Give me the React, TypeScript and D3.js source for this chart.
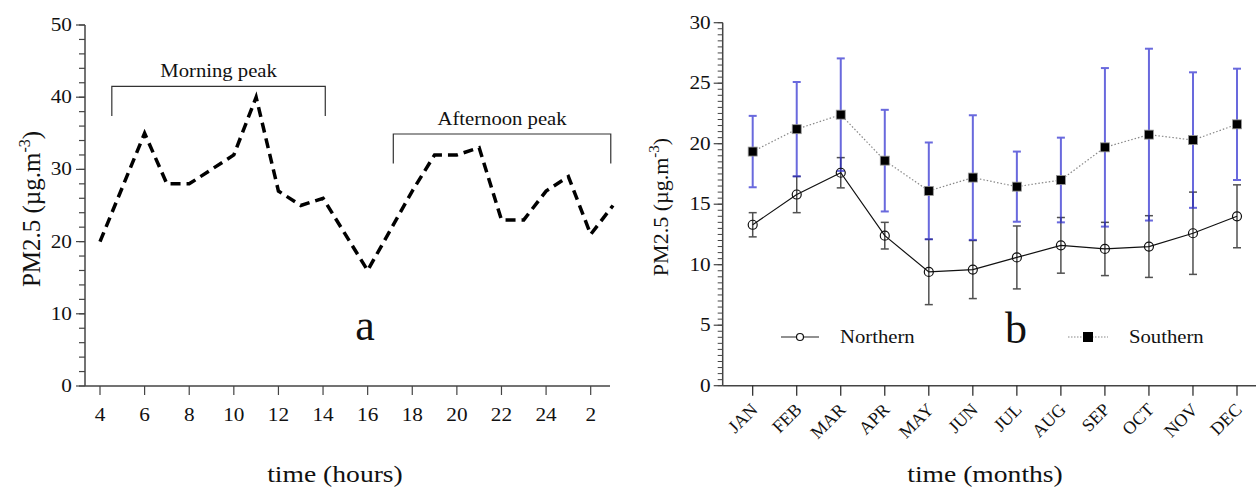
import React, { useRef, useEffect } from "react";
import * as d3 from "d3";

// panel a: hourly PM2.5 (hour 26 = 2 am, 27 = 3 am)
const hours = [4, 5, 6, 7, 8, 9, 10, 11, 12, 13, 14, 15, 16, 17, 18, 19, 20, 21, 22, 23, 24, 25, 26, 27];
const hourlyPM = [20, 27.5, 35, 28, 28, 30, 32, 40, 27, 25, 26, 21, 16, 21.5, 27, 32, 32, 33, 23, 23, 27, 29, 21, 25];
const hourTicks = [4, 6, 8, 10, 12, 14, 16, 18, 20, 22, 24, 26];
const pmTicksA = [0, 10, 20, 30, 40, 50];

// panel b: monthly PM2.5 with error bars
const months = ["JAN", "FEB", "MAR", "APR", "MAY", "JUN", "JUL", "AUG", "SEP", "OCT", "NOV", "DEC"];
const northernMean = [13.3, 15.8, 17.6, 12.4, 9.4, 9.6, 10.6, 11.6, 11.3, 11.5, 12.6, 14.0];
const northernErr = [1.0, 1.5, 1.25, 1.1, 2.7, 2.4, 2.6, 2.3, 2.2, 2.55, 3.4, 2.6];
const southernMean = [19.35, 21.2, 22.4, 18.6, 16.1, 17.2, 16.45, 17.0, 19.7, 20.75, 20.3, 21.6];
const southernErr = [2.95, 3.9, 4.65, 4.2, 4.0, 5.15, 2.9, 3.5, 6.55, 7.1, 5.6, 4.6];
const pmTicksB = [0, 5, 10, 15, 20, 25, 30];

const FONT = "'Liberation Serif', 'Times New Roman', serif";
const SX = 1.15; // text in the source is stretched sideways a little

const App = () => {
    const ref = useRef<SVGSVGElement>(null);

    useEffect(() => {
        const svg = d3.select(ref.current);
        svg.selectAll("*").remove();

        const label = (g: any, x: number, y: number, txt: string, size: number, anchor = "middle", sx = SX) =>
            g.append("text")
                .attr("transform", `translate(${x},${y}) scale(${sx},1)`)
                .attr("text-anchor", anchor)
                .style("font-family", FONT)
                .style("font-size", size + "px")
                .attr("fill", "#111")
                .text(txt);

        // ---------------- panel a ----------------
        const xA = d3.scaleLinear().domain([4, 27]).range([100, 613]);
        const yA = d3.scaleLinear().domain([0, 50]).range([386, 25]);
        const a = svg.append("g");

        // minor y ticks
        a.selectAll(".minorA").data(d3.range(0, 50.1, 2)).enter().append("line")
            .attr("x1", 79).attr("x2", 85)
            .attr("y1", d => yA(d)).attr("y2", d => yA(d))
            .attr("stroke", "#444").attr("stroke-width", 1.2);
        a.selectAll(".majorA").data(pmTicksA).enter().append("line")
            .attr("x1", 76).attr("x2", 85)
            .attr("y1", d => yA(d)).attr("y2", d => yA(d))
            .attr("stroke", "#444").attr("stroke-width", 1.2);
        pmTicksA.forEach(v => label(a, 72, yA(v) + 6, String(v), 18.5, "end"));
        a.append("line").attr("x1", 85).attr("x2", 85).attr("y1", yA(50)).attr("y2", yA(0))
            .attr("stroke", "#444").attr("stroke-width", 1.5);
        a.append("line").attr("x1", 85).attr("x2", 610).attr("y1", yA(0)).attr("y2", yA(0))
            .attr("stroke", "#444").attr("stroke-width", 1.5);
        a.selectAll(".xtA").data(hourTicks).enter().append("line")
            .attr("x1", d => xA(d)).attr("x2", d => xA(d))
            .attr("y1", yA(0)).attr("y2", yA(0) + 9)
            .attr("stroke", "#444").attr("stroke-width", 1.2);
        hourTicks.forEach(h => label(a, xA(h), 421, String(h > 24 ? h - 24 : h), 18.5));

        // the hourly line
        const lineA = d3.line<number>().x((d, i) => xA(hours[i])).y(d => yA(d));
        a.append("path").datum(hourlyPM)
            .attr("d", lineA)
            .attr("fill", "none").attr("stroke", "#000").attr("stroke-width", 3.5)
            .attr("stroke-dasharray", "10,6");

        // brackets
        const bracket = (h0: number, h1: number, top: number, bot: number, txt: string) => {
            a.append("path")
                .attr("d", `M${xA(h0)},${yA(bot)}V${yA(top)}H${xA(h1)}V${yA(bot)}`)
                .attr("fill", "none").attr("stroke", "#333").attr("stroke-width", 1.2);
            label(a, (xA(h0) + xA(h1)) / 2, yA(top) - 9, txt, 18);
        };
        bracket(4.53, 14.1, 41.5, 37.4, "Morning peak");
        bracket(17.15, 26.9, 34.9, 30.8, "Afternoon peak");

        label(a, 365, 340, "a", 44, "middle", 1);
        label(a, 335, 482, "time (hours)", 23, "middle", 1.2);
        a.append("text")
            .attr("transform", "translate(40,209) rotate(-90)")
            .attr("text-anchor", "middle")
            .style("font-family", FONT).style("font-size", "25px").attr("fill", "#111")
            .html("PM2.5 (µg.m<tspan dy='-10' font-size='16'>-3</tspan><tspan dy='10'>)</tspan>");

        // ---------------- panel b ----------------
        const xB = d3.scaleLinear().domain([0, 11]).range([752.7, 1237]);
        const yB = d3.scaleLinear().domain([0, 30]).range([385.7, 22.7]);
        const b = svg.append("g");
        const x0 = 722.7;

        b.selectAll(".minorB").data(d3.range(0, 30.01, 0.5)).enter().append("line")
            .attr("x1", x0 - 5).attr("x2", x0)
            .attr("y1", d => yB(d)).attr("y2", d => yB(d))
            .attr("stroke", "#444").attr("stroke-width", 1);
        b.selectAll(".majorB").data(pmTicksB).enter().append("line")
            .attr("x1", x0 - 9).attr("x2", x0)
            .attr("y1", d => yB(d)).attr("y2", d => yB(d))
            .attr("stroke", "#444").attr("stroke-width", 1.2);
        pmTicksB.forEach(v => label(b, x0 - 12, yB(v) + 6, String(v), 18.5, "end"));
        b.append("line").attr("x1", x0).attr("x2", x0).attr("y1", yB(30)).attr("y2", yB(0))
            .attr("stroke", "#444").attr("stroke-width", 1.5);
        b.append("line").attr("x1", x0).attr("x2", 1256).attr("y1", yB(0)).attr("y2", yB(0))
            .attr("stroke", "#444").attr("stroke-width", 1.5);
        b.selectAll(".xtB").data(months).enter().append("line")
            .attr("x1", (d, i) => xB(i)).attr("x2", (d, i) => xB(i))
            .attr("y1", yB(0)).attr("y2", yB(0) + 10)
            .attr("stroke", "#222").attr("stroke-width", 1.2);
        months.forEach((m, i) => {
            b.append("text")
                .attr("transform", `translate(${xB(i) + 6},${yB(0) + 25}) rotate(-45)`)
                .attr("text-anchor", "end")
                .style("font-family", FONT).style("font-size", "18px").attr("fill", "#111")
                .text(m);
        });

        const errBars = (mean: number[], err: number[], color: string, width: number, opacity: number) => {
            const g = b.append("g").attr("stroke", color).attr("stroke-width", width).attr("opacity", opacity);
            mean.forEach((m, i) => {
                const x = xB(i);
                g.append("line").attr("x1", x).attr("x2", x).attr("y1", yB(m + err[i])).attr("y2", yB(m - err[i]));
                g.append("line").attr("x1", x - 4).attr("x2", x + 4).attr("y1", yB(m + err[i])).attr("y2", yB(m + err[i]));
                g.append("line").attr("x1", x - 4).attr("x2", x + 4).attr("y1", yB(m - err[i])).attr("y2", yB(m - err[i]));
            });
        };
        errBars(northernMean, northernErr, "#333", 1.5, 0.85);
        errBars(southernMean, southernErr, "#2a2ad0", 2, 0.7);

        const lineB = d3.line<number>().x((d, i) => xB(i)).y(d => yB(d));
        b.append("path").datum(northernMean).attr("d", lineB)
            .attr("fill", "none").attr("stroke", "#111").attr("stroke-width", 1.2);
        b.append("path").datum(southernMean).attr("d", lineB)
            .attr("fill", "none").attr("stroke", "#888").attr("stroke-width", 1.2)
            .attr("stroke-dasharray", "1.5,2");

        b.selectAll(".nPt").data(northernMean).enter().append("circle")
            .attr("cx", (d, i) => xB(i)).attr("cy", d => yB(d)).attr("r", 4.5)
            .attr("fill", "none").attr("stroke", "#111").attr("stroke-width", 1.2);
        b.selectAll(".sPt").data(southernMean).enter().append("rect")
            .attr("x", (d, i) => xB(i) - 4.5).attr("y", d => yB(d) - 4.5)
            .attr("width", 9).attr("height", 9)
            .attr("fill", "#000").attr("stroke", "#999").attr("stroke-width", 0.8);

        // legend
        b.append("line").attr("x1", 781).attr("x2", 819).attr("y1", 337).attr("y2", 337)
            .attr("stroke", "#222").attr("stroke-width", 1.2);
        b.append("circle").attr("cx", 800).attr("cy", 337).attr("r", 3.5)
            .attr("fill", "#fff").attr("stroke", "#111").attr("stroke-width", 1.2);
        label(b, 840, 343, "Northern", 18, "start");
        b.append("line").attr("x1", 1068).attr("x2", 1108).attr("y1", 337).attr("y2", 337)
            .attr("stroke", "#888").attr("stroke-width", 1.2).attr("stroke-dasharray", "1.5,1.5");
        b.append("rect").attr("x", 1083).attr("y", 332).attr("width", 10).attr("height", 10).attr("fill", "#000");
        label(b, 1129, 343, "Southern", 18, "start");

        label(b, 1016, 343, "b", 44, "middle", 1);
        label(b, 985, 482, "time (months)", 23, "middle", 1.2);
        b.append("text")
            .attr("transform", "translate(668,207) rotate(-90)")
            .attr("text-anchor", "middle")
            .style("font-family", FONT).style("font-size", "22px").attr("fill", "#111")
            .html("PM2.5 (µg.m<tspan dy='-9' font-size='15'>-3</tspan><tspan dy='9'>)</tspan>");
    }, []);

    return (
        <svg
            ref={ref}
            width={1256}
            height={490}
            style={{ position: "absolute", left: 0, top: 0, background: "#fff" }}
        />
    );
};

export default App;
